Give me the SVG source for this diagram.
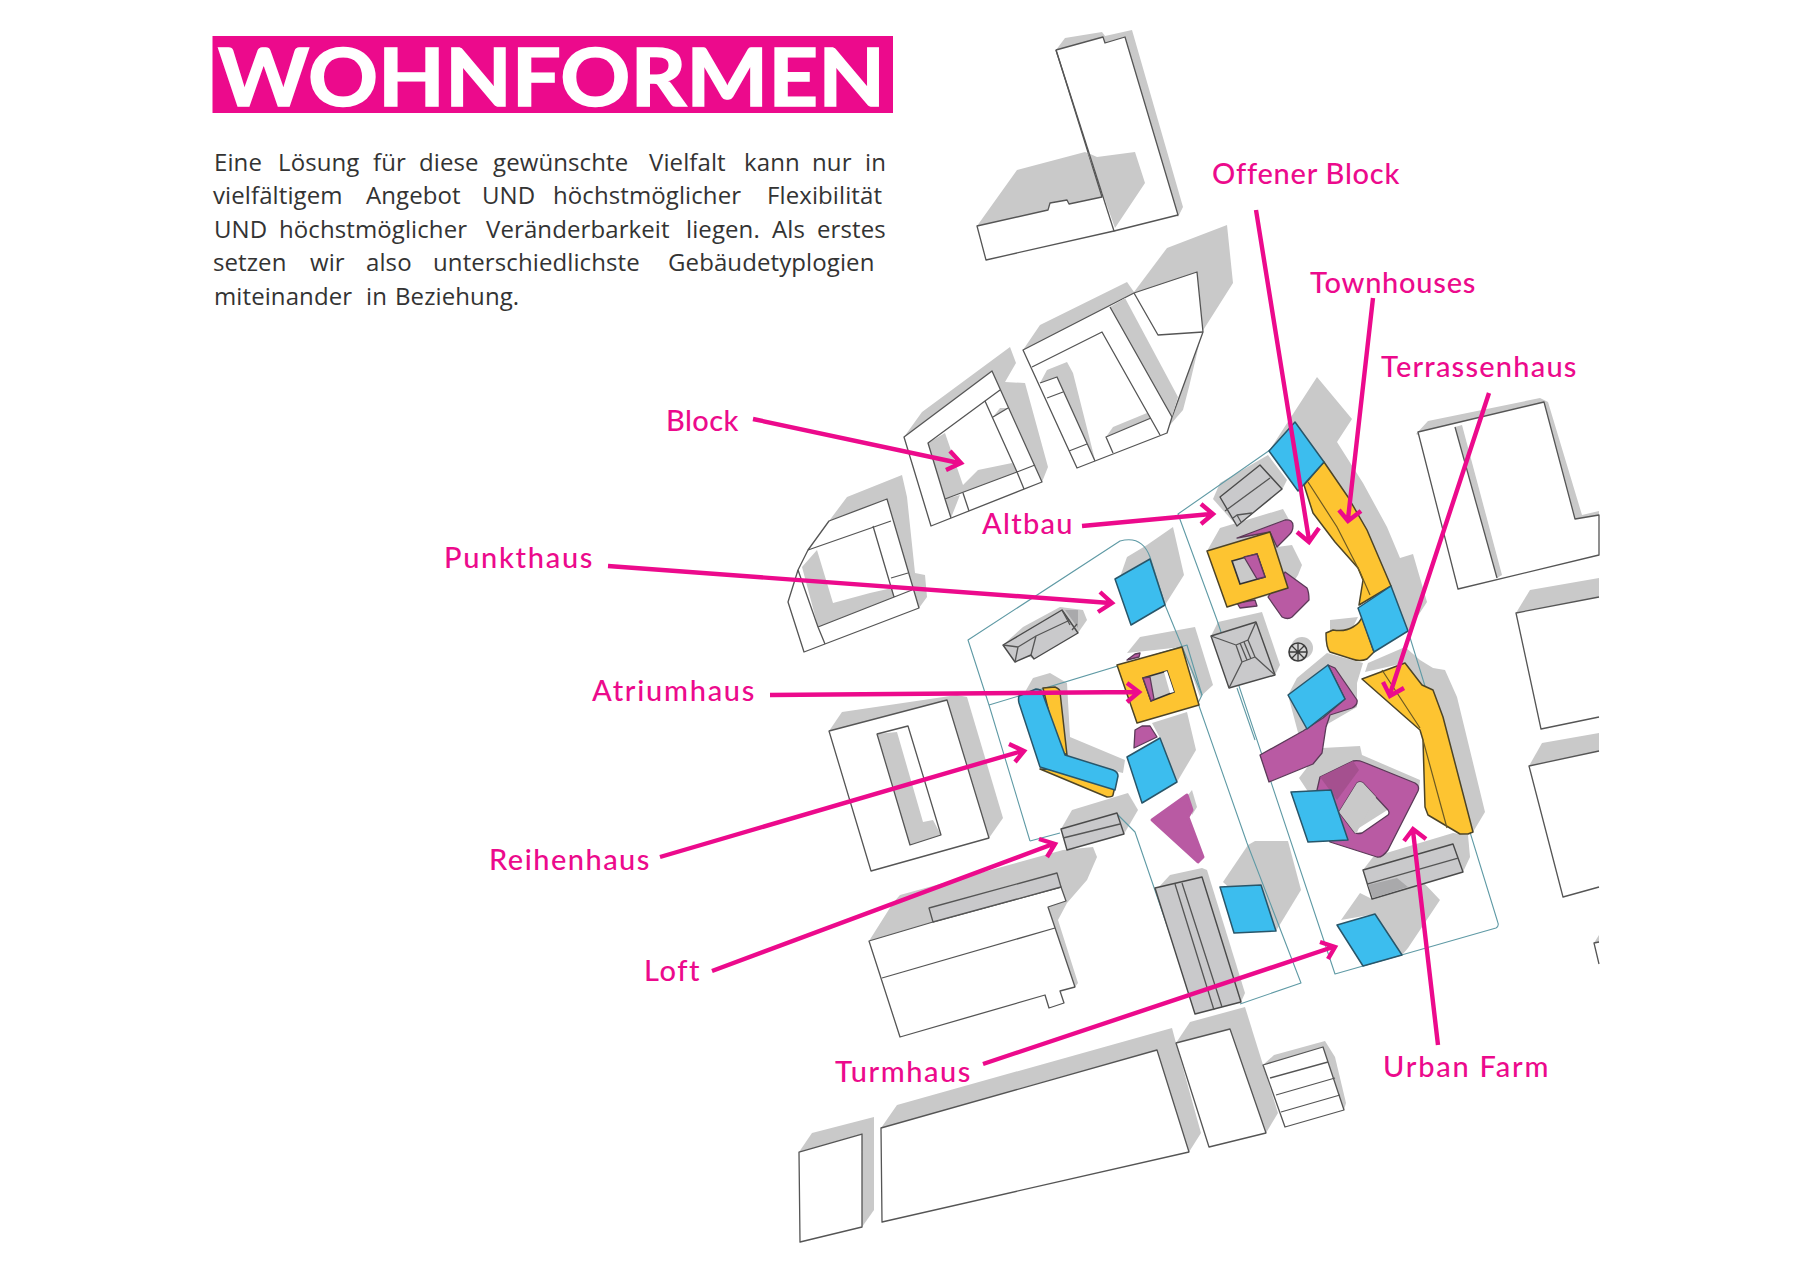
<svg xmlns="http://www.w3.org/2000/svg" width="1800" height="1273" viewBox="0 0 1800 1273">
<style>
.s{fill:#c9c9c9;stroke:none}
.b{fill:#fff;stroke:#555;stroke-width:1.3;stroke-linejoin:round}
.l{fill:none;stroke:#555;stroke-width:1.3;stroke-linejoin:round}
.g{fill:#c9c9cb;stroke:#4a4a4a;stroke-width:1.4;stroke-linejoin:round}
.d{fill:#a9a9ab;stroke:none}
.t{fill:none;stroke:#5f9aa5;stroke-width:1.1;stroke-linejoin:round}
.bl{fill:#3cbdee;stroke:#28566a;stroke-width:1.5;stroke-linejoin:round}
.y{fill:#fdc431;stroke:#4d4426;stroke-width:1.5;stroke-linejoin:round}
.yl{fill:none;stroke:#6d5a22;stroke-width:1.2}
.p{fill:#b95aa3;stroke:#5b3a58;stroke-width:1.3;stroke-linejoin:round}
.dp{fill:#a5508f;stroke:none}
.a{fill:none;stroke:#ec0a8c;stroke-width:4.4;stroke-linecap:butt;stroke-linejoin:miter}
.lb{font-family:"Lato","Liberation Sans",sans-serif;font-size:29px;font-weight:500;fill:#ec0a8c;letter-spacing:.6px}
.body{font-family:"Open Sans","Liberation Sans",sans-serif;font-size:24px;font-weight:400;fill:#333;letter-spacing:.1px}
</style>

<g id="title">
<rect x="212.500" y="36" width="680.500" height="77" fill="#ec0a8c"/>
<text x="218" y="106" font-family="Lato,'Liberation Sans',sans-serif" font-size="80" font-weight="700" fill="#fff" stroke="#fff" stroke-width="1.500" textLength="667" lengthAdjust="spacingAndGlyphs">WOHNFORMEN</text>
</g>

<g id="intro" class="body">
<text y="171"><tspan x="214">Eine</tspan><tspan x="278">Lösung</tspan><tspan x="373">für</tspan><tspan x="419">diese</tspan><tspan x="493">gewünschte</tspan><tspan x="649">Vielfalt</tspan><tspan x="744">kann</tspan><tspan x="812">nur</tspan><tspan x="865">in</tspan></text>
<text y="204"><tspan x="213">vielfältigem</tspan><tspan x="366">Angebot</tspan><tspan x="482">UND</tspan><tspan x="553">höchstmöglicher</tspan><tspan x="767">Flexibilität</tspan></text>
<text y="238"><tspan x="214">UND</tspan><tspan x="279">höchstmöglicher</tspan><tspan x="486">Veränderbarkeit</tspan><tspan x="686">liegen.</tspan><tspan x="772">Als</tspan><tspan x="817">erstes</tspan></text>
<text y="271"><tspan x="213">setzen</tspan><tspan x="310">wir</tspan><tspan x="366">also</tspan><tspan x="433">unterschiedlichste</tspan><tspan x="668">Gebäudetyplogien</tspan></text>
<text y="305"><tspan x="214">miteinander</tspan><tspan x="366">in</tspan><tspan x="395">Beziehung.</tspan></text>
</g>

<g id="shadows">
<polygon class="s" points="1056,50 1065,38 1102,32 1105,36 1132,30 1183,207 1178,217"/>
<polygon class="s" points="977,226 1017,170 1085,152 1097,157 1135,152 1145,183 1115,232"/>
<polygon class="s" points="1023,350 1040,325 1127,282 1134,292 1167,248 1227,225 1233,283 1202,332 1189,387 1183,410 1170,425 1110,320"/>
<polygon class="s" points="904,437 922,412 1010,347 1016,363 1005,382 1025,383 1048,467 1042,482 992,371"/>
<polygon class="s" points="829,521 847,497 902,475 907,497 915,573 925,575 927,597 919,608 887,499"/>
<polygon class="s" points="798,570 808,550 818,627 800,600"/>
<polygon class="s" points="829,731 842,712 957,695 967,697 1003,818 989,838"/>
<polygon class="s" points="869,941 893,903 900,895 1063,850 1093,847 1097,857 1087,880 1067,903 1058,920 1078,983 1075,987 1048,907"/>
<polygon class="s" points="799,1152 812,1133 874,1117 874,1210 862,1227"/>
<polygon class="s" points="881,1128 897,1105 1172,1028 1176,1043 1201,1133 1189,1152"/>
<polygon class="s" points="1176,1043 1190,1022 1245,1007 1278,1113 1266,1133"/>
<polygon class="s" points="1263,1065 1274,1055 1325,1041 1335,1057 1346,1103 1344,1110"/>
<polygon class="s" points="1416,434 1428,421 1540,398 1548,402 1582,515 1599,511 1599,516 1575,519"/>
<polygon class="s" points="1516,613 1530,590 1599,578 1599,597"/>
<polygon class="s" points="1529,766 1542,743 1599,733 1599,751"/>
<polygon class="s" points="1594,943 1599,935 1599,943"/>
<polygon class="s" points="1269,451 1317,377 1352,419 1337,442 1363,483 1387,527 1400,558 1413,554 1427,602 1408,631 1391,586 1324,462"/>
<polygon class="s" points="1213,499 1220,483 1268,455 1287,480 1282,490 1237,526"/>
<polygon class="s" points="1207,551 1220,528 1283,509 1292,525 1277,547 1292,545 1302,565 1298,575 1288,590 1227,607"/>
<polygon class="s" points="1211,636 1218,622 1262,612 1280,665 1275,675 1229,688"/>
<circle class="s" cx="1302" cy="648" r="11"/>
<polygon class="s" points="1003,645 1023,627 1060,607 1083,610 1087,620 1078,633 1034,659"/>
<polygon class="s" points="1120,577 1127,557 1147,545 1173,527 1184,575 1165,605"/>
<polygon class="s" points="1127,653 1140,637 1195,627 1213,685 1200,697 1182,647"/>
<polygon class="s" points="1025,692 1033,678 1050,673 1067,683 1070,737 1125,760 1123,773 1065,760"/>
<polygon class="s" points="1152,723 1187,712 1196,750 1177,782 1160,738"/>
<polygon class="s" points="1188,795 1192,790 1197,807 1192,815"/>
<polygon class="s" points="1061,829 1072,810 1128,793 1138,810 1124,834"/>
<polygon class="s" points="1158,888 1170,875 1202,868 1207,870 1245,993 1241,1002"/>
<polygon class="s" points="1223,882 1248,845 1255,841 1288,841 1301,890 1276,931"/>
<polygon class="s" points="1297,678 1327,653 1363,663 1357,683 1357,707 1300,740 1288,695"/>
<polygon class="s" points="1330,620 1358,617 1353,627 1330,635"/>
<polygon class="s" points="1299,778 1322,748 1360,746 1362,755 1420,780 1419,790 1340,840"/>
<polygon class="s" points="1363,870 1373,857 1453,833 1468,835 1470,857 1463,872"/>
<polygon class="s" points="1341,920 1360,893 1372,899 1423,882 1440,900 1408,948 1402,955 1375,914"/>
<polygon class="s" points="1365,672 1368,663 1405,647 1420,660 1433,668 1445,670 1457,697 1485,812 1473,832 1405,663"/>
</g>

<g id="lots">
<path class="t" d="M1030,841 L989,705 L968,640 L1120,541 Q1142,535 1150,557 L1165,605 L1202,695 L1198,703 L1247,843 L1301,983 L1240,1004"/>
<path class="t" d="M1030,841 L1060,833 M1117,814 L1135,832 L1172,940 L1195,1012"/>
<path class="t" d="M989,705 L1187,645 L1202,695"/>
<path class="t" d="M1270,450 L1178,514 L1217,620 L1335,974 L1496,928 Q1499,926 1498,923 L1408,631"/>
<path class="t" d="M1237,688 L1255,740"/>
</g>

<g id="buildings">
<g id="building-a"><polygon class="b" points="1056,50 1103,37 1105,43 1125,37 1178,215 1114,231 986,260 977,226 1048,210 1050,203 1067,200 1069,204 1102,197"/><polygon class="s" points="1088,153 1097,157 1135,152 1145,183 1115,228"/><path class="l" d="M1056,50 L1114,231"/></g>
<g id="building-b">
<polygon class="b" points="1023,350 1134,293 1197,272 1203,332 1172,417 1167,433 1077,468"/>
<polygon class="s" points="1110,307 1125,298 1178,397 1172,417"/>
<polygon class="s" points="1040,383 1047,370 1067,362 1073,373 1095,460 1057,377"/>
<polygon class="s" points="1106,437 1113,427 1147,413 1151,418"/>
<path class="l" d="M1032,367 L1102,332 L1160,435 M1110,307 L1172,417 M1134,293 L1158,335 L1203,332 M1040,383 L1057,377 L1095,461 M1047,398 L1063,392 M1069,451 L1087,444 M1113,453 L1106,437 L1151,418"/>
</g>
<g id="building-c">
<polygon class="b" points="904,437 992,371 1042,482 931,526"/>
<polygon class="s" points="928,443 945,433 963,485 978,470 1012,463 1017,472 945,499"/>
<polygon class="s" points="993,417 1000,408 1008,408"/>
<polygon class="s" points="945,499 951,518 960,495"/>
<path class="l" d="M928,443 L985,401 L1017,472 L945,499 Z M985,401 L1000,390 M993,417 L1008,408 M1017,472 L1035,465 M1017,472 L1024,489 M945,499 L951,518 M963,493 L969,511"/>
</g>
<g id="building-d">
<polygon class="b" points="788,602 798,570 808,550 829,521 887,499 919,608 804,652"/>
<polygon class="s" points="802,567 817,550 833,603 870,593 892,588 894,597 818,627"/>
<path class="l" d="M808,550 L891,521 M873,526 L894,597 M891,578 L908,573 M818,627 L912,590 M818,627 L798,570 M818,627 L825,644"/>
</g>
<g id="building-e">
<polygon class="b" points="829,731 947,700 989,838 871,871"/>
<polygon class="s" points="877,734 897,732 923,822 933,820 941,835 910,845"/>
<polygon class="l" points="877,734 908,726 941,835 910,845"/>
</g>
<g id="building-f">
<polygon class="b" points="869,941 933,922 1061,887 1066,901 1048,907 1075,987 1060,991 1064,1003 1049,1008 1045,995 900,1037"/>
<polygon class="g" points="929,908 1057,873 1061,887 933,922" style="stroke:#555;stroke-width:1.3"/>
<path class="l" d="M882,978 L1055,928"/>
</g>
<g id="building-g"><polygon class="b" points="799,1152 862,1134 862,1227 800,1242"/></g>
<g id="building-h"><polygon class="b" points="881,1128 1157,1050 1189,1152 882,1222"/></g>
<g id="building-i"><polygon class="b" points="1176,1043 1230,1029 1266,1133 1209,1147"/></g>
<g id="building-j"><polygon class="b" points="1263,1065 1323,1047 1344,1110 1285,1127"/><path class="l" d="M1270,1078 L1328,1062 M1276,1095 L1335,1078 M1281,1112 L1340,1095"/></g>
<g id="building-k">
<polygon class="b" points="1418,432 1544,402 1575,519 1599,515 1599,555 1458,589"/>
<polygon class="s" points="1455,427 1462,425 1502,575 1497,578"/>
<path class="l" d="M1455,427 L1497,578"/>
</g>
<g id="building-l"><path class="b" d="M1599,597 L1516,613 L1541,729 L1599,717"/></g>
<g id="building-m"><path class="b" d="M1599,751 L1529,766 L1563,897 L1599,887"/></g>
<g id="building-n"><path class="l" d="M1599,942 L1594,943 L1599,964"/></g>
</g>

<g id="old-buildings">
<g id="altbau-top"><polygon class="g" points="1220,497 1260,465 1282,489 1237,526"/><path class="l" d="M1225,511 L1270,478 M1233,518 L1237,515 L1252,513 M1237,515 L1241,522"/></g>
<g id="altbau-middle"><polygon class="g" points="1211,636 1256,622 1275,675 1229,688"/><path class="l" d="M1211,636 L1236,645 L1248,640 L1256,622 M1248,640 L1255,657 L1275,675 M1236,645 L1242,662 L1229,688 M1242,662 L1255,657 M1240,643 L1247,660 M1244,642 L1251,659"/></g>
<g id="altbau-left"><polygon class="d" points="1065,610 1078,610 1078,628"/><polygon class="g" points="1003,645 1062,610 1078,633 1034,659 1031,655 1015,662"/><path class="l" d="M1003,645 L1018,647 L1015,662 M1018,647 L1036,636 M1031,655 L1036,636 L1070,620 M1062,610 L1070,625 M1072,630 L1077,624"/></g>
<g id="tree"><circle cx="1298" cy="652" r="9" fill="#d5d5d5" stroke="#3d3d3d" stroke-width="1.6"/><path class="l" style="stroke:#3d3d3d" d="M1289,652 H1307 M1298,643 V661 M1292,646 L1304,658 M1304,646 L1292,658"/></g>
<g id="bar-loft"><polygon class="g" points="1061,829 1117,813 1124,834 1067,850"/><path class="l" d="M1063,838 L1120,824"/></g>
<g id="bar-long"><polygon class="g" points="1155,888 1202,877 1241,1002 1195,1014"/><path class="l" d="M1175,884 L1214,1010 M1182,883 L1222,1007"/></g>
<g id="bar-urban"><polygon class="g" points="1363,870 1453,844 1463,872 1372,899"/><polygon class="d" points="1368,885 1397,878 1408,887 1373,898"/><path class="l" d="M1367,884 L1458,858"/></g>
</g>

<g id="housing">
<g id="townhouses">
<path class="y" d="M1304,485 L1324,462 L1348,497 L1367,530 L1391,586 L1359,605 L1363,580 L1358,568 L1335,542 L1313,513 Z"/>
<path class="yl" d="M1308,482 L1337,527 L1360,572 L1370,595"/>
</g>
<g id="offener-block-blue"><polygon class="bl" points="1269,451 1295,422 1324,462 1298,491"/></g>
<g id="townhouse-end">
<path class="y" d="M1362,617 L1374,652 L1367,659 Q1360,662 1352,659 L1330,652 Q1326,648 1326,633 L1333,630 Q1345,632 1353,627 Q1360,623 1362,617 Z"/>
<polygon class="bl" points="1358,608 1391,586 1408,631 1374,652"/>
</g>
<g id="atrium-right">
<path class="p" d="M1237,538 L1285,520 Q1293,519 1293,526 Q1293,532 1288,536 L1277,547 L1270,532 Z"/>
<path class="p" d="M1285,572 L1307,588 Q1309,592 1309,600 L1292,617 Q1288,620 1282,617 L1268,597 Z"/>
<path class="p" d="M1237,603 L1255,600 L1257,606 L1240,608 Z"/>
<polygon class="y" points="1207,551 1270,532 1288,588 1227,607"/>
<polygon points="1232,561 1257,554 1265,577 1240,584" fill="#c9c9c9" stroke="#333" stroke-width="1.6"/>
<polygon class="p" points="1244,557 1257,554 1265,577 1257,579"/>
</g>
<g id="punkthaus"><polygon class="bl" points="1115,579 1150,559 1165,605 1131,625"/></g>
<g id="atriumhaus">
<polygon class="p" points="1127,660 1135,654 1140,653 1139,657"/>
<polygon class="y" points="1117,665 1182,647 1199,705 1137,723"/>
<polygon points="1143,678 1167,671 1174,692 1151,701" fill="#c9c9c9" stroke="#333" stroke-width="1.6"/>
<polygon points="1164,672 1167,671 1174,692 1170,693" fill="#fff"/>
<polygon class="p" points="1143,678 1150,677 1154,699 1151,701"/>
</g>
<g id="reihenhaus">
<path class="y" d="M1043,688 L1055,687 Q1060,689 1060,692 L1067,755 L1058,750 Z"/>
<path class="y" d="M1040,769 L1107,797 Q1113,797 1113,795 L1115,786 L1060,770 Z"/>
<path class="bl" d="M1019,696 Q1018,699 1019,703 L1040,767 L1115,790 L1118,776 Q1118,772 1113,770 L1065,755 L1042,692 Q1040,689 1036,689 Z"/>
</g>
<g id="purple-lower">
<path class="p" d="M1134,748 L1135,730 L1142,726 L1150,726 L1157,737 Z"/>
<polygon class="bl" points="1127,757 1160,738 1177,782 1142,803"/>
</g>
<g id="purple-small"><path d="M1152,820 L1187,795 L1192,810 L1188,817 L1203,857 L1198,862 Z" fill="#b95aa3" stroke="#b95aa3" stroke-width="3" stroke-linejoin="round"/></g>
<g id="blue-mid"><polygon class="bl" points="1220,887 1261,885 1276,931 1234,933"/></g>
<g id="purple-wing">
<path class="p" d="M1260,755 L1303,731 L1323,718 L1345,699 L1328,665 L1335,668 L1357,700 Q1358,705 1352,708 L1330,715 L1326,727 L1322,753 L1313,764 L1269,782 Z"/>
<polygon class="bl" points="1288,695 1328,665 1345,699 1307,729"/>
</g>
<g id="urban-farm">
<path class="p" fill-rule="evenodd" d="M1317,790 L1320,777 L1353,761 Q1358,760 1363,762 L1415,783 Q1420,786 1418,791 L1388,850 Q1382,858 1377,857 L1330,842 Z M1357,783 Q1360,781 1363,783 L1388,810 Q1390,813 1388,815 L1362,833 Q1358,834 1355,833 L1339,812 Z"/>
<polygon class="dp" points="1320,777 1353,761 1359,770 1337,800"/>
<path class="s" d="M1357,783 Q1360,781 1363,783 L1376,797 L1358,830 Q1357,834 1355,833 L1339,812 Z"/>
<polygon class="bl" points="1291,792 1331,790 1348,840 1308,842"/>
</g>
<g id="turmhaus"><polygon class="bl" points="1337,925 1375,914 1402,955 1363,966"/></g>
<g id="terrassenhaus">
<path class="y" d="M1362,679 L1405,663 L1422,685 L1433,690 L1443,717 L1473,832 L1468,834 L1460,834 L1428,815 L1425,807 L1423,740 L1420,730 Z"/>
<path class="yl" d="M1382,670 L1420,728 M1423,740 L1447,828"/>
</g>
</g>

<g id="connectors">
<path class="a" d="M1256,210 L1309,540 M1297,532 L1309,542 L1319,528"/>
<path class="a" d="M1373,298 L1348,519 M1339,510 L1348,521 L1361,511"/>
<path class="a" d="M1489,393 L1390,694 M1383,682 L1390,696 L1404,688"/>
<path class="a" d="M753,419 L959,463 M950,451 L961,463 L946,470"/>
<path class="a" d="M1082,526 L1211,514 M1201,504 L1213,514 L1201,524"/>
<path class="a" d="M608,566 L1110,603 M1100,592 L1112,603 L1098,612"/>
<path class="a" d="M770,695 L1137,692 M1127,683 L1139,692 L1127,702"/>
<path class="a" d="M660,857 L1022,751 M1009,744 L1024,751 L1015,762"/>
<path class="a" d="M712,971 L1053,844 M1039,839 L1055,844 L1047,857"/>
<path class="a" d="M983,1064 L1333,947 M1320,942 L1335,947 L1328,959"/>
<path class="a" d="M1438,1045 L1413,831 M1404,841 L1413,829 L1426,839"/>
</g>

<g id="labels" class="lb">
<text id="label-offener-block" x="1212" y="184" textLength="188">Offener Block</text>
<text id="label-townhouses" x="1310" y="293" textLength="166">Townhouses</text>
<text id="label-terrassenhaus" x="1381" y="377" textLength="196">Terrassenhaus</text>
<text id="label-block" x="666" y="431" textLength="73">Block</text>
<text id="label-altbau" x="982" y="534" textLength="91">Altbau</text>
<text id="label-punkthaus" x="444" y="568" textLength="149">Punkthaus</text>
<text id="label-atriumhaus" x="592" y="701" textLength="163">Atriumhaus</text>
<text id="label-reihenhaus" x="489" y="870" textLength="161">Reihenhaus</text>
<text id="label-loft" x="644" y="981" textLength="56">Loft</text>
<text id="label-turmhaus" x="835" y="1082" textLength="136">Turmhaus</text>
<text id="label-urban-farm" x="1383" y="1077" textLength="166">Urban Farm</text>
</g>
</svg>
